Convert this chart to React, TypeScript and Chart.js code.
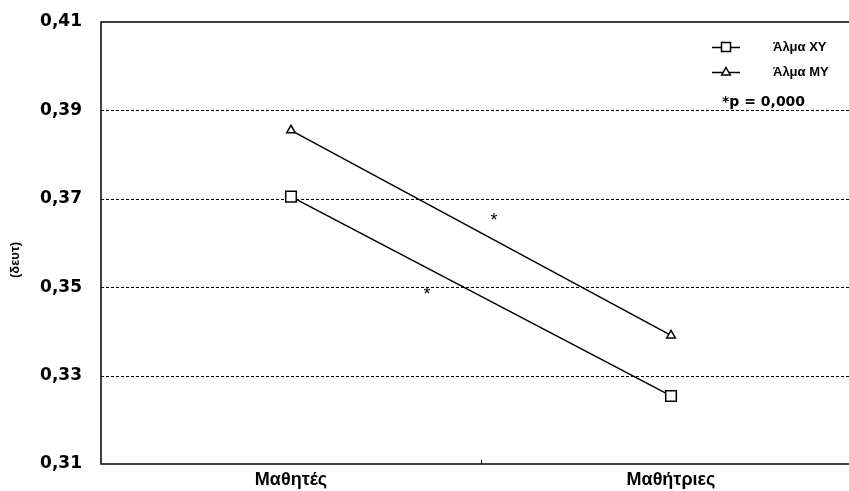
import React, { useEffect, useRef } from 'react';
import { Chart, registerables } from 'chart.js';

Chart.register(...registerables);

const categories = ['Μαθητές', 'Μαθήτριες'];
const seriesNames = ['Άλμα ΧΥ', 'Άλμα ΜΥ'];
const almaXY = [0.3705, 0.3254];
const almaMY = [0.3855, 0.3391];
const yTicks = [0.31, 0.33, 0.35, 0.37, 0.39, 0.41];
const sigX = [0.358, 0.534];
const sigY = [0.3491, 0.3659];
const sigLabel = '*p = 0,000';
const yTitle = '(δευτ)';

const FONT = '"Liberation Sans", Arial, sans-serif';
const WIDE = '"DejaVu Sans", sans-serif';

function drawMarker(ctx: CanvasRenderingContext2D, style: string, x: number, y: number) {
  ctx.save();
  ctx.fillStyle = '#fff';
  ctx.strokeStyle = '#000';
  ctx.lineWidth = 1.5;
  ctx.beginPath();
  if (style === 'rect') {
    ctx.rect(x - 4.5, y - 4.5, 9, 9);
  } else {
    ctx.moveTo(x, y - 4.5);
    ctx.lineTo(x + 4.3, y + 3);
    ctx.lineTo(x - 4.3, y + 3);
    ctx.closePath();
  }
  ctx.fill();
  ctx.stroke();
  ctx.restore();
}

const decorPlugin = {
  id: 'decor',
  beforeDatasetsDraw(chart: any) {
    const { ctx, chartArea } = chart;
    const ys = chart.scales.y;
    const xs = chart.scales.x;
    ctx.save();
    ctx.strokeStyle = '#000';
    ctx.lineWidth = 1;
    ctx.setLineDash([3, 2]);
    yTicks.slice(1, -1).forEach((v) => {
      const py = Math.round(ys.getPixelForValue(v)) + 0.5;
      ctx.beginPath();
      ctx.moveTo(chartArea.left, py);
      ctx.lineTo(chartArea.right, py);
      ctx.stroke();
    });
    ctx.setLineDash([]);
    ctx.lineWidth = 1.5;
    ctx.beginPath();
    ctx.moveTo(chartArea.right, chartArea.top);
    ctx.lineTo(chartArea.left, chartArea.top);
    ctx.lineTo(chartArea.left, chartArea.bottom);
    ctx.lineTo(chartArea.right, chartArea.bottom);
    ctx.stroke();
    const mx = Math.round(xs.getPixelForValue(0.5)) + 0.5;
    ctx.lineWidth = 1;
    ctx.beginPath();
    ctx.moveTo(mx, chartArea.bottom);
    ctx.lineTo(mx, chartArea.bottom - 4);
    ctx.stroke();
    ctx.restore();
  },
  afterDatasetsDraw(chart: any) {
    const { ctx } = chart;
    const ys = chart.scales.y;
    const xs = chart.scales.x;
    ctx.save();
    ctx.fillStyle = '#000';
    ctx.textAlign = 'center';
    ctx.textBaseline = 'middle';
    ctx.font = `18px ${FONT}`;
    sigX.forEach((vx, i) => {
      ctx.fillText('*', xs.getPixelForValue(vx), ys.getPixelForValue(sigY[i]) + 4);
    });

    const styles = ['rect', 'triangle'];
    const rows = [47, 72];
    seriesNames.forEach((name, i) => {
      const y = rows[i];
      ctx.lineWidth = 1.5;
      ctx.strokeStyle = '#000';
      ctx.beginPath();
      ctx.moveTo(712, y + 0.5);
      ctx.lineTo(740, y + 0.5);
      ctx.stroke();
      drawMarker(ctx, styles[i], 726, y);
      ctx.font = `bold 13px ${FONT}`;
      ctx.textAlign = 'left';
      ctx.fillText(name, 773, y);
    });
    ctx.font = `bold 14px ${WIDE}`;
    ctx.textAlign = 'left';
    ctx.fillText(sigLabel, 722, 102);

    ctx.translate(15, 260);
    ctx.rotate(-Math.PI / 2);
    ctx.textAlign = 'center';
    ctx.font = `bold 13px ${FONT}`;
    ctx.fillText(yTitle, 0, 0);
    ctx.restore();
  },
};

export default function App() {
  const ref = useRef<HTMLCanvasElement | null>(null);
  useEffect(() => {
    document.documentElement.style.overflow = 'hidden';
    document.body.style.margin = '0';
    const canvas = ref.current!;
    const chart = new Chart(canvas, {
      type: 'line',
      data: {
        labels: categories,
        datasets: [
          {
            label: seriesNames[0],
            data: almaXY,
            borderColor: '#000',
            backgroundColor: '#fff',
            borderWidth: 1.5,
            pointStyle: 'rect',
            pointRadius: 7.5,
            pointBorderWidth: 1.5,
            pointBackgroundColor: '#fff',
            pointBorderColor: '#000',
          },
          {
            label: seriesNames[1],
            data: almaMY,
            borderColor: '#000',
            backgroundColor: '#fff',
            borderWidth: 1.5,
            pointStyle: 'triangle',
            pointRadius: 5,
            pointBorderWidth: 1.5,
            pointBackgroundColor: '#fff',
            pointBorderColor: '#000',
          },
        ],
      },
      options: {
        responsive: false,
        animation: false,
        devicePixelRatio: 1,
        layout: { autoPadding: false, padding: { top: 22, left: 0, right: 0, bottom: 0 } },
        plugins: { legend: { display: false }, tooltip: { enabled: false } },
        scales: {
          x: {
            type: 'category',
            offset: true,
            grid: { display: false, drawTicks: false },
            border: { display: false },
            ticks: { color: '#000', padding: 5, font: { family: FONT, size: 18, weight: 'bold' } },
            afterFit: (s: any) => {
              s.height = 27;
              s.paddingLeft = 0;
              s.paddingRight = 0;
            },
          },
          y: {
            min: 0.31,
            max: 0.41,
            grid: { display: false, drawTicks: false },
            border: { display: false },
            afterBuildTicks: (s: any) => { s.ticks = yTicks.map((v) => ({ value: v })); },
            ticks: {
              color: '#000',
              padding: 19,
              font: { family: WIDE, size: 17, weight: 'bold' },
              callback: (v: any) => Number(v).toFixed(2).replace('.', ','),
            },
            afterFit: (s: any) => {
              s.width = 101;
              s.paddingTop = 0;
              s.paddingBottom = 0;
            },
          },
        },
      },
      plugins: [decorPlugin],
    });
    return () => chart.destroy();
  }, []);
  return (
    <div style={{ position: 'fixed', left: 0, top: 0, width: 861, height: 491, background: '#fff' }}>
      <canvas ref={ref} width={861} height={491} style={{ display: 'block' }} />
    </div>
  );
}
